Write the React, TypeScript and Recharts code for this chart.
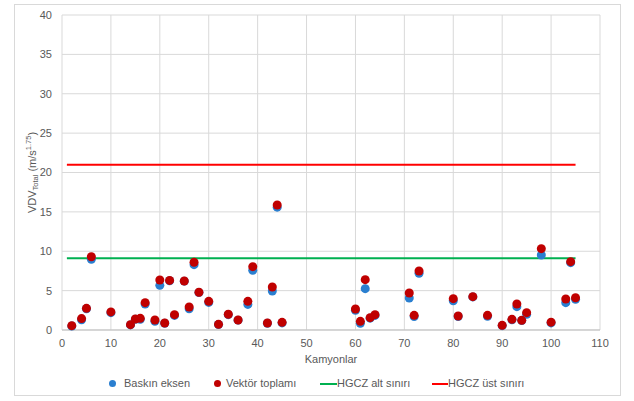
import React from 'react';
import { ScatterChart, Scatter, XAxis, YAxis, CartesianGrid, ReferenceLine } from 'recharts';

const trucks = [2,4,5,6,10,14,15,16,17,19,20,21,22,23,25,26,27,28,30,32,34,36,38,39,42,43,44,45,60,61,62,63,64,71,72,73,80,81,84,87,90,92,93,94,95,98,100,103,104,105];
const dominantAxis = [0.5,1.3,2.7,8.97,2.2,0.65,1.35,1.35,3.3,1.1,5.67,0.85,6.25,1.85,6.2,2.7,8.3,4.75,3.5,0.7,1.95,1.25,3.25,7.58,0.85,4.95,15.6,0.9,2.5,0.85,5.25,1.5,1.85,4.06,1.7,7.2,3.72,1.72,4.2,1.75,0.55,1.3,2.96,1.2,2.0,9.52,0.9,3.47,8.55,3.9];
const vectorSum = [0.55,1.45,2.75,9.3,2.3,0.68,1.4,1.48,3.47,1.27,6.35,0.89,6.3,1.95,6.22,2.92,8.6,4.8,3.64,0.72,2.0,1.27,3.64,8.04,0.89,5.46,15.87,0.97,2.67,1.1,6.39,1.57,1.95,4.7,1.86,7.49,3.98,1.78,4.23,1.86,0.59,1.35,3.3,1.23,2.2,10.33,1.0,3.94,8.68,4.1];
const limitRange = [1, 105];
const lowerLimit = 9.1;
const upperLimit = 21;
const xTicks = [0,10,20,30,40,50,60,70,80,90,100,110];
const yTicks = [0,5,10,15,20,25,30,35,40];
const seriesNames = ['Baskın eksen', 'Vektör toplamı', 'HGCZ alt sınırı', 'HGCZ üst sınırı'];

const blueData = trucks.map((x, i) => ({ x, y: dominantAxis[i] }));
const redData = trucks.map((x, i) => ({ x, y: vectorSum[i] }));

const FONT = "'Liberation Sans', Arial, sans-serif";
const BLUE = '#2a7fd0';
const DARKRED = '#c00000';
const GREEN = '#00b050';
const RED = '#ff0000';
const TXT = '#595959';

const dot = (color: string) => (props: any) => (
  <circle cx={props.cx} cy={props.cy} r={4.5} fill={color} />
);

const YLabel = (props: any) => {
  const { viewBox } = props;
  const cx = 33;
  const cy = viewBox ? viewBox.y + viewBox.height / 2 : 173;
  return (
    <text x={cx} y={cy} transform={`rotate(-90, ${cx}, ${cy})`} textAnchor="middle" fill={TXT} fontSize={11} fontFamily={FONT} dominantBaseline="middle">
      <tspan>VDV</tspan>
      <tspan fontSize={7.5} dy={3}>Total</tspan>
      <tspan dy={-3}> (m/s</tspan>
      <tspan fontSize={7.5} dy={-4}>1.75</tspan>
      <tspan dy={4}>)</tspan>
    </text>
  );
};

const Legend2 = () => (
  <div style={{ position: 'absolute', left: 0, top: 376, width: 634, height: 16, fontFamily: FONT, fontSize: 11, color: TXT }}>
    <span style={{ position: 'absolute', left: 109, top: 4, width: 7, height: 7, borderRadius: 4, background: BLUE }} />
    <span style={{ position: 'absolute', left: 124, top: 1 }}>{seriesNames[0]}</span>
    <span style={{ position: 'absolute', left: 214, top: 4, width: 7, height: 7, borderRadius: 4, background: DARKRED }} />
    <span style={{ position: 'absolute', left: 226, top: 1 }}>{seriesNames[1]}</span>
    <span style={{ position: 'absolute', left: 320, top: 7, width: 17, height: 2, background: GREEN }} />
    <span style={{ position: 'absolute', left: 337, top: 1 }}>{seriesNames[2]}</span>
    <span style={{ position: 'absolute', left: 432, top: 7, width: 16, height: 2, background: RED }} />
    <span style={{ position: 'absolute', left: 448, top: 1 }}>{seriesNames[3]}</span>
  </div>
);

export default function App() {
  return (
    <div style={{ position: 'absolute', left: 0, top: 0, width: 634, height: 401, background: '#fff' }}>
      <div style={{ position: 'absolute', left: 14, top: 4, width: 605, height: 390, border: '1px solid #d9d9d9' }} />
      <ScatterChart width={634} height={401} margin={{ top: 15, right: 34, bottom: 41, left: 8 }} style={{ position: 'absolute', left: 0, top: 0, fontFamily: FONT }}>
        <CartesianGrid stroke="#d9d9d9" strokeWidth={1} />
        <XAxis
          type="number"
          dataKey="x"
          domain={[0, 110]}
          ticks={xTicks}
          interval={0}
          tickLine={false}
          tickSize={0}
          tickMargin={9}
          axisLine={{ stroke: '#bfbfbf' }}
          tick={{ fill: TXT, fontSize: 11, fontFamily: FONT }}
          height={30}
          label={{ value: 'Kamyonlar', position: 'insideBottom', offset: -3, fill: TXT, fontSize: 11, fontFamily: FONT }}
        />
        <YAxis
          type="number"
          dataKey="y"
          domain={[0, 40]}
          ticks={yTicks}
          interval={0}
          tickLine={false}
          tickSize={0}
          tickMargin={10}
          axisLine={false}
          width={54}
          tick={{ fill: TXT, fontSize: 11, fontFamily: FONT }}
          label={<YLabel />}
        />
        <ReferenceLine segment={[{ x: limitRange[0], y: lowerLimit }, { x: limitRange[1], y: lowerLimit }]} stroke={GREEN} strokeWidth={2} />
        <ReferenceLine segment={[{ x: limitRange[0], y: upperLimit }, { x: limitRange[1], y: upperLimit }]} stroke={RED} strokeWidth={2} />
        <Scatter name={seriesNames[0]} data={blueData} fill={BLUE} shape={dot(BLUE)} isAnimationActive={false} />
        <Scatter name={seriesNames[1]} data={redData} fill={DARKRED} shape={dot(DARKRED)} isAnimationActive={false} />
      </ScatterChart>
      <Legend2 />
    </div>
  );
}
